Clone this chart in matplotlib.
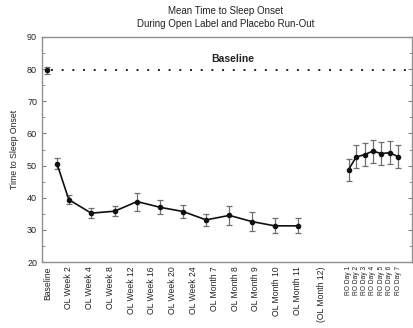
import numpy as np
import matplotlib.pyplot as plt
from matplotlib.ticker import MultipleLocator

plt.rcParams['font.family'] = ['Liberation Sans', 'DejaVu Sans']

# x axis labels and their slot positions
tick_labels = ['Baseline', 'OL Week 2', 'OL Week 4', 'OL Week 8', 'OL Week 12',
               'OL Week 16', 'OL Week 20', 'OL Week 24', 'OL Month 7',
               'OL Month 8', 'OL Month 9', 'OL Month 10', 'OL Month 11',
               '(OL Month 12)']
tick_pos = [0, 1, 2, 3, 4, 5, 6, 7, 8, 9, 10, 11, 12, 13.15]
ro_labels = ['RO Day 1', 'RO Day 2', 'RO Day 3', 'RO Day 4', 'RO Day 5',
             'RO Day 6', 'RO Day 7']

# baseline
base_x = -0.05
base_mean = 79.6
base_err = 1.2

# open label phase
ol_x = [0.43, 1.0, 2.08, 3.2, 4.28, 5.4, 6.5, 7.6, 8.72, 9.79, 10.9, 12.03]
ol_mean = [50.6, 39.4, 35.2, 35.8, 38.8, 37.0, 35.7, 33.1, 34.5, 32.6, 31.25, 31.25]
ol_err = [1.8, 1.5, 1.5, 1.6, 2.8, 2.2, 2.1, 1.8, 2.9, 3.0, 2.3, 2.3]

# placebo run-out
ro_x = [14.45, 14.82, 15.22, 15.62, 16.02, 16.44, 16.84]
ro_mean = [48.75, 52.7, 53.4, 54.5, 53.75, 54.0, 52.7]
ro_err = [3.4, 3.6, 3.6, 3.6, 3.6, 3.6, 3.6]

fig = plt.figure(figsize=(4.14, 3.28), dpi=100)
ax = fig.add_axes([0.1014, 0.2012, 0.8937, 0.686])

err_style = dict(fmt='o', color='#111111', ms=3.0, ecolor='#707070',
                 elinewidth=0.9, capsize=2, capthick=0.9)

ax.errorbar([base_x], [base_mean], yerr=[base_err], **err_style)
ax.errorbar(ol_x, ol_mean, yerr=ol_err, ls='-', lw=1.2, **err_style)
ax.errorbar(ro_x, ro_mean, yerr=ro_err, ls='-', lw=1.2, **err_style)

# dotted baseline reference
ax.axhline(base_mean, xmin=0.024, xmax=1.0, color='#222222', lw=1.4,
           ls=(0, (1, 4.5)))
ax.text(8.9, 83.2, 'Baseline', ha='center', va='center', fontsize=7.5,
        fontweight='bold', color='#222222')

ax.set_xlim(-0.29, 17.5)
ax.set_ylim(20, 90)
ax.yaxis.set_major_locator(MultipleLocator(10))
ax.yaxis.set_minor_locator(MultipleLocator(5))

ax.set_xticks(tick_pos + ro_x)
ax.set_xticklabels(tick_labels + ro_labels, rotation=90, color='#222222')
for lbl in ax.get_xticklabels()[:len(tick_labels)]:
    lbl.set_fontsize(6.2)
for lbl in ax.get_xticklabels()[len(tick_labels):]:
    lbl.set_fontsize(4.8)
ax.set_xticks([0] + ro_x, minor=True)
ax.tick_params(axis='x', which='major', length=0, pad=3)
ax.tick_params(axis='x', which='minor', direction='in', length=3,
               color='#707070')

ax.tick_params(axis='y', which='both', direction='in', right=True,
               color='#808080', labelsize=6.5, labelcolor='#222222')
ax.tick_params(axis='y', which='major', length=3)
ax.tick_params(axis='y', which='minor', length=2)

for s in ax.spines.values():
    s.set_color('#909090')
    s.set_linewidth(1.0)

ax.set_ylabel('Time to Sleep Onset', fontsize=6.3, color='#222222', labelpad=6)

fig.text(0.546, 0.966, 'Mean Time to Sleep Onset', ha='center', va='center',
         fontsize=7, color='#222222')
fig.text(0.546, 0.927, 'During Open Label and Placebo Run-Out', ha='center',
         va='center', fontsize=7, color='#222222')

fig.savefig('out.png', dpi=100)
